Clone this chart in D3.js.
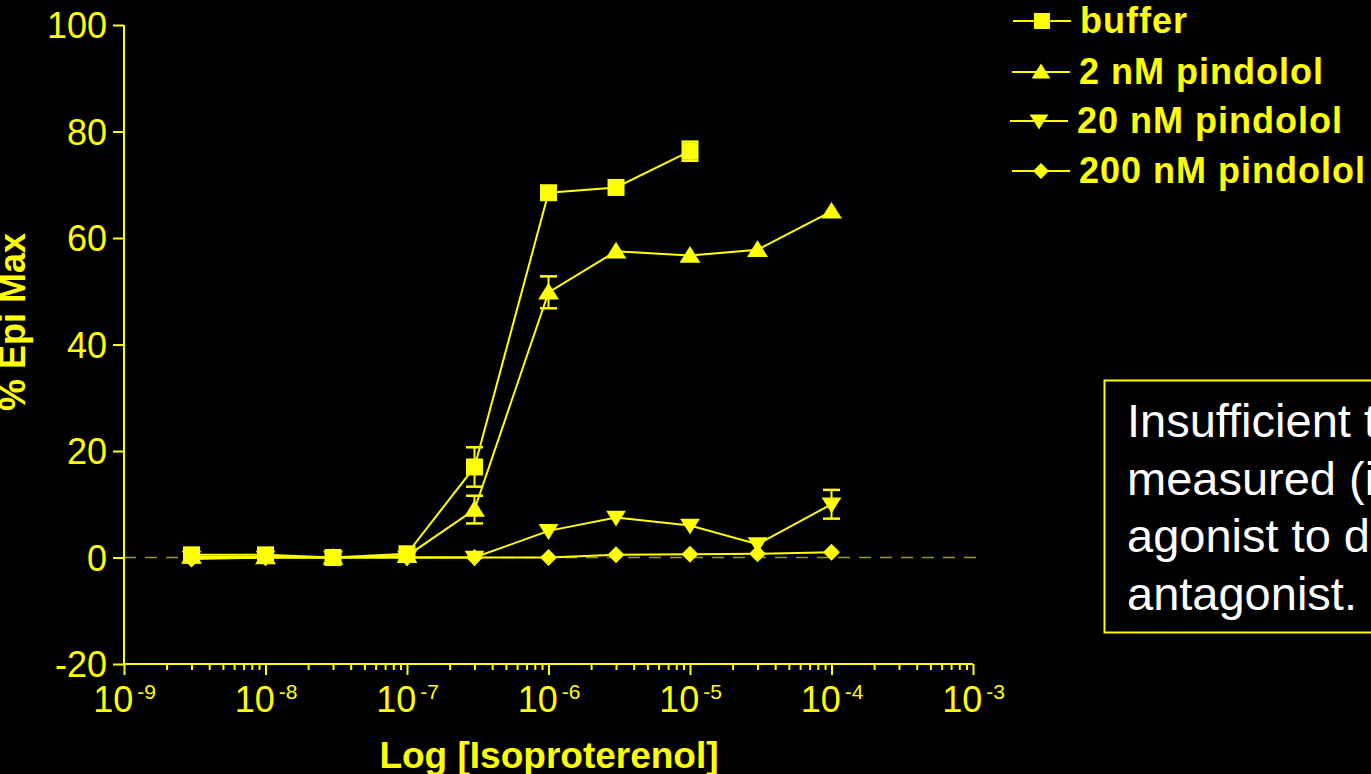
<!DOCTYPE html>
<html>
<head>
<meta charset="utf-8">
<script src="https://cdn.jsdelivr.net/npm/d3@7"></script>
<style>
  html, body { margin: 0; padding: 0; background: #000; overflow: hidden; }
  svg { display: block; }
  text { font-family: "Liberation Sans", Arial, sans-serif; }
</style>
</head>
<body>
<svg id="chart" width="1371" height="774"></svg>
<script>
// Isoproterenol concentrations (M)
const concentrations = [3e-9, 1e-8, 3e-8, 1e-7, 3e-7, 1e-6, 3e-6, 1e-5, 3e-5, 1e-4];

// Response, % of epinephrine maximum
const buffer      = [0.5, 0.5, 0.0, 0.7, 17.0, 68.5, 69.5, 76.3, null, null];
const pindolol2   = [0.2, 0.1, 0.0, 0.3, 9.0, 49.8, 57.5, 56.7, 57.8, 65.0];
const pindolol20  = [0.0, 0.0, 0.0, 0.0, 0.0, 5.0, 7.5, 6.0, 2.5, 10.0];
const pindolol200 = [-0.3, 0.0, 0.0, 0.0, 0.0, 0.0, 0.5, 0.6, 0.7, 1.0];

// Standard errors (null where hidden by the marker)
const bufferErr      = [null, null, null, null, 3.7, null, null, 1.8, null, null];
const pindolol2Err   = [null, null, null, null, 2.6, 3.0, null, null, null, null];
const pindolol20Err  = [null, null, null, null, null, null, null, null, null, 2.7];
const pindolol200Err = [null, null, null, null, null, null, null, null, null, null];

const seriesNames = ["buffer", "2 nM pindolol", "20 nM pindolol", "200 nM pindolol"];
const yTicks = [-20, 0, 20, 40, 60, 80, 100];
const xDecades = [-9, -8, -7, -6, -5, -4, -3];

const noteLines = [
  "Insufficient to be",
  "measured (insufficient",
  "agonist to displace",
  "antagonist."
];

const YELLOW = "#ffff00";
const svg = d3.select("#chart");

const x = d3.scaleLog().domain([1e-9, 1e-3]).range([124, 973]);
const y = d3.scaleLinear().domain([-20, 100]).range([664, 25]);

// Zero reference line
svg.append("line")
  .attr("x1", x(1e-9)).attr("x2", 977)
  .attr("y1", y(0)).attr("y2", y(0))
  .attr("stroke", "#9a9a00").attr("stroke-width", 1.6)
  .attr("stroke-dasharray", "12,9");

// Y axis
const yAxis = svg.append("g")
  .attr("transform", `translate(${x(1e-9)},0)`)
  .call(d3.axisLeft(y).tickValues(yTicks).tickSize(11).tickPadding(6).tickFormat(d => String(d)));
yAxis.select(".domain").attr("stroke", YELLOW).attr("stroke-width", 2).attr("d", `M0,${y(100)}V${y(-20)}`);
yAxis.selectAll(".tick line").attr("stroke", YELLOW).attr("stroke-width", 2);
yAxis.selectAll(".tick text").attr("fill", YELLOW).attr("font-size", 36).attr("dy", "0.36em")
  .style("font-family", "'Liberation Sans', Arial, sans-serif");

// X axis with log minor ticks
const minorTicks = [];
xDecades.slice(0, -1).forEach(e => {
  for (let m = 2; m <= 9; m++) minorTicks.push(m * Math.pow(10, e));
});
const xAxisMinor = svg.append("g")
  .attr("transform", `translate(0,${y(-20)})`)
  .call(d3.axisBottom(x).tickValues(minorTicks).tickSize(6).tickFormat(""));
xAxisMinor.select(".domain").remove();
xAxisMinor.selectAll(".tick line").attr("stroke", YELLOW).attr("stroke-width", 2);

const xAxis = svg.append("g")
  .attr("transform", `translate(0,${y(-20)})`)
  .call(d3.axisBottom(x).tickValues(xDecades.map(e => Math.pow(10, e))).tickSize(11).tickFormat(""));
xAxis.select(".domain").attr("stroke", YELLOW).attr("stroke-width", 2).attr("d", `M${x(1e-9)},0H${x(1e-3)}`);
xAxis.selectAll(".tick line").attr("stroke", YELLOW).attr("stroke-width", 2);
xAxis.selectAll(".tick").each(function(d, i) {
  const t = d3.select(this).append("text")
    .attr("y", 48).attr("text-anchor", "middle").attr("fill", YELLOW).attr("font-size", 36);
  t.append("tspan").text("10");
  t.append("tspan").attr("dx", 4).attr("dy", -13).attr("font-size", 21).text(String(xDecades[i]));
});

// Axis titles
svg.append("text")
  .attr("x", 549).attr("y", 768)
  .attr("text-anchor", "middle").attr("fill", YELLOW)
  .attr("font-size", 37).attr("font-weight", "bold")
  .text("Log [Isoproterenol]");
svg.append("text")
  .attr("transform", "translate(25,322) rotate(-90)")
  .attr("text-anchor", "middle").attr("fill", YELLOW)
  .attr("font-size", 36).attr("font-weight", "bold")
  .text("% Epi Max");

// Marker shapes
const shapes = {
  square:  s => `M${-s/2},${-s/2}h${s}v${s}h${-s}Z`,
  up:      s => `M0,${-s*0.5}L${s*0.55},${s*0.38}L${-s*0.55},${s*0.38}Z`,
  down:    s => `M0,${s*0.5}L${s*0.55},${-s*0.38}L${-s*0.55},${-s*0.38}Z`,
  diamond: s => `M0,${-s/2}L${s/2},0L0,${s/2}L${-s/2},0Z`
};

const series = [
  { name: seriesNames[2], values: pindolol20,  err: pindolol20Err,  shape: "down",    size: 18 },
  { name: seriesNames[3], values: pindolol200, err: pindolol200Err, shape: "diamond", size: 17 },
  { name: seriesNames[1], values: pindolol2,   err: pindolol2Err,   shape: "up",      size: 19 },
  { name: seriesNames[0], values: buffer,      err: bufferErr,      shape: "square",  size: 17 }
];

const line = d3.line()
  .defined(d => d.v !== null)
  .x(d => x(d.c)).y(d => y(d.v));

series.forEach(s => {
  const pts = concentrations.map((c, i) => ({ c, v: s.values[i], e: s.err[i] }));
  const g = svg.append("g");
  g.append("path").attr("d", line(pts))
    .attr("fill", "none").attr("stroke", YELLOW).attr("stroke-width", 2);
  pts.filter(p => p.v !== null && p.e !== null).forEach(p => {
    const cx = x(p.c), y1 = y(p.v + p.e), y2 = y(p.v - p.e);
    g.append("line").attr("x1", cx).attr("x2", cx).attr("y1", y1).attr("y2", y2)
      .attr("stroke", YELLOW).attr("stroke-width", 2);
    [y1, y2].forEach(yy => g.append("line")
      .attr("x1", cx - 8.5).attr("x2", cx + 8.5).attr("y1", yy).attr("y2", yy)
      .attr("stroke", YELLOW).attr("stroke-width", 2.5));
  });
  g.selectAll("path.marker").data(pts.filter(p => p.v !== null)).join("path")
    .attr("class", "marker")
    .attr("transform", p => `translate(${x(p.c)},${y(p.v)})`)
    .attr("d", shapes[s.shape](s.size))
    .attr("fill", YELLOW);
});

// Legend
const legendRows = [
  { name: seriesNames[0], shape: "square",  size: 16, y: 21,  tx: 1080 },
  { name: seriesNames[1], shape: "up",      size: 17, y: 72,  tx: 1079 },
  { name: seriesNames[2], shape: "down",    size: 17, y: 121, tx: 1077 },
  { name: seriesNames[3], shape: "diamond", size: 16, y: 171, tx: 1079 }
];
const legend = svg.append("g");
legendRows.forEach(r => {
  const x0 = r.tx - 67;
  legend.append("line").attr("x1", x0).attr("x2", x0 + 58).attr("y1", r.y).attr("y2", r.y)
    .attr("stroke", YELLOW).attr("stroke-width", 2);
  legend.append("path").attr("transform", `translate(${x0 + 29},${r.y})`)
    .attr("d", shapes[r.shape](r.size)).attr("fill", YELLOW);
  legend.append("text").attr("x", r.tx).attr("y", r.y + 12)
    .attr("fill", YELLOW).attr("font-size", 36).attr("font-weight", "bold")
    .attr("letter-spacing", 1)
    .text(r.name);
});

// Note box
svg.append("rect")
  .attr("x", 1104.5).attr("y", 380.5).attr("width", 300).attr("height", 252)
  .attr("fill", "#000").attr("stroke", YELLOW).attr("stroke-width", 2);
svg.append("text")
  .attr("fill", "#ffffff").attr("font-size", 47)
  .selectAll("tspan").data(noteLines).join("tspan")
  .attr("x", 1127).attr("y", (d, i) => 437 + i * 57.5)
  .text(d => d);
</script>
</body>
</html>
